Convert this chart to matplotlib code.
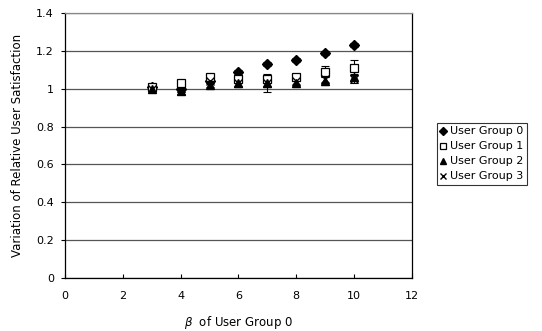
import matplotlib
matplotlib.use("Agg")
import matplotlib.pyplot as plt

plt.rcParams['font.family'] = ['DejaVu Sans']

beta = [3, 4, 5, 6, 7, 8, 9, 10]
g0 = [1.01, 1.00, 1.04, 1.09, 1.13, 1.15, 1.19, 1.23]
g1 = [1.01, 1.03, 1.06, 1.05, 1.05, 1.06, 1.09, 1.11]
g2 = [1.00, 0.99, 1.02, 1.03, 1.03, 1.03, 1.04, 1.06]
g3 = [1.00, 0.99, 1.04, 1.03, 1.03, 1.04, 1.05, 1.05]
e0 = [0.01, 0.01, 0.01, 0.01, 0.01, 0.01, 0.01, 0.01]
e1 = [0.01, 0.01, 0.02, 0.02, 0.02, 0.02, 0.03, 0.04]
e2 = [0.01, 0.01, 0.01, 0.02, 0.05, 0.02, 0.02, 0.02]
e3 = [0.01, 0.01, 0.01, 0.02, 0.02, 0.02, 0.02, 0.02]
labels = ['User Group 0', 'User Group 1', 'User Group 2', 'User Group 3']

fig = plt.figure(figsize=(5.42, 3.31), dpi=100)
ax = fig.add_axes([0.120, 0.160, 0.640, 0.801])

styles = [
    dict(marker='D', mfc='black', mec='black', ms=5),
    dict(marker='s', mfc='white', mec='black', ms=6, mew=0.9),
    dict(marker='^', mfc='black', mec='black', ms=6),
    dict(marker='x', mfc='black', mec='black', ms=6, mew=1.0),
]
handles = []
for vals, errs, st, lab in zip([g0, g1, g2, g3], [e0, e1, e2, e3], styles, labels):
    ax.errorbar(beta, vals, yerr=errs, fmt='none', ecolor='black', elinewidth=0.8, capsize=3, capthick=0.8, zorder=3)
    h, = ax.plot(beta, vals, linestyle='none', label=lab, zorder=4, **st)
    handles.append(h)

ax.set_xlim(0, 12)
ax.set_ylim(0, 1.4)
ax.set_xticks([0, 2, 4, 6, 8, 10, 12])
ax.set_yticks([0, 0.2, 0.4, 0.6, 0.8, 1.0, 1.2, 1.4])
ax.set_yticklabels(['0', '0.2', '0.4', '0.6', '0.8', '1', '1.2', '1.4'])
ax.tick_params(axis='x', direction='in', length=3, width=0.8, labelsize=8, pad=9, colors='black')
ax.tick_params(axis='y', direction='out', length=3, width=0.8, labelsize=8, pad=5)
ax.yaxis.grid(True, color='#555555', linewidth=0.9)
ax.set_axisbelow(True)
for s in ['left', 'bottom', 'right']:
    ax.spines[s].set_color('black')
    ax.spines[s].set_linewidth(0.9)
ax.spines['top'].set_color('#888888')
ax.spines['top'].set_linewidth(0.9)

ax.set_xlabel(r'$\beta$  of User Group 0', fontsize=8.5, labelpad=10)
ax.set_ylabel('Variation of Relative User Satisfaction', fontsize=8.5, labelpad=9)

leg = fig.legend(handles=handles, loc='center left', bbox_to_anchor=(0.806, 0.535),
                 fontsize=8, frameon=True, fancybox=False, edgecolor='black',
                 handlelength=0.5, handletextpad=0.4, borderpad=0.3, labelspacing=0.45,
                 borderaxespad=0, markerscale=0.8)
leg.get_frame().set_linewidth(0.8)

fig.savefig('out.png', dpi=100)
